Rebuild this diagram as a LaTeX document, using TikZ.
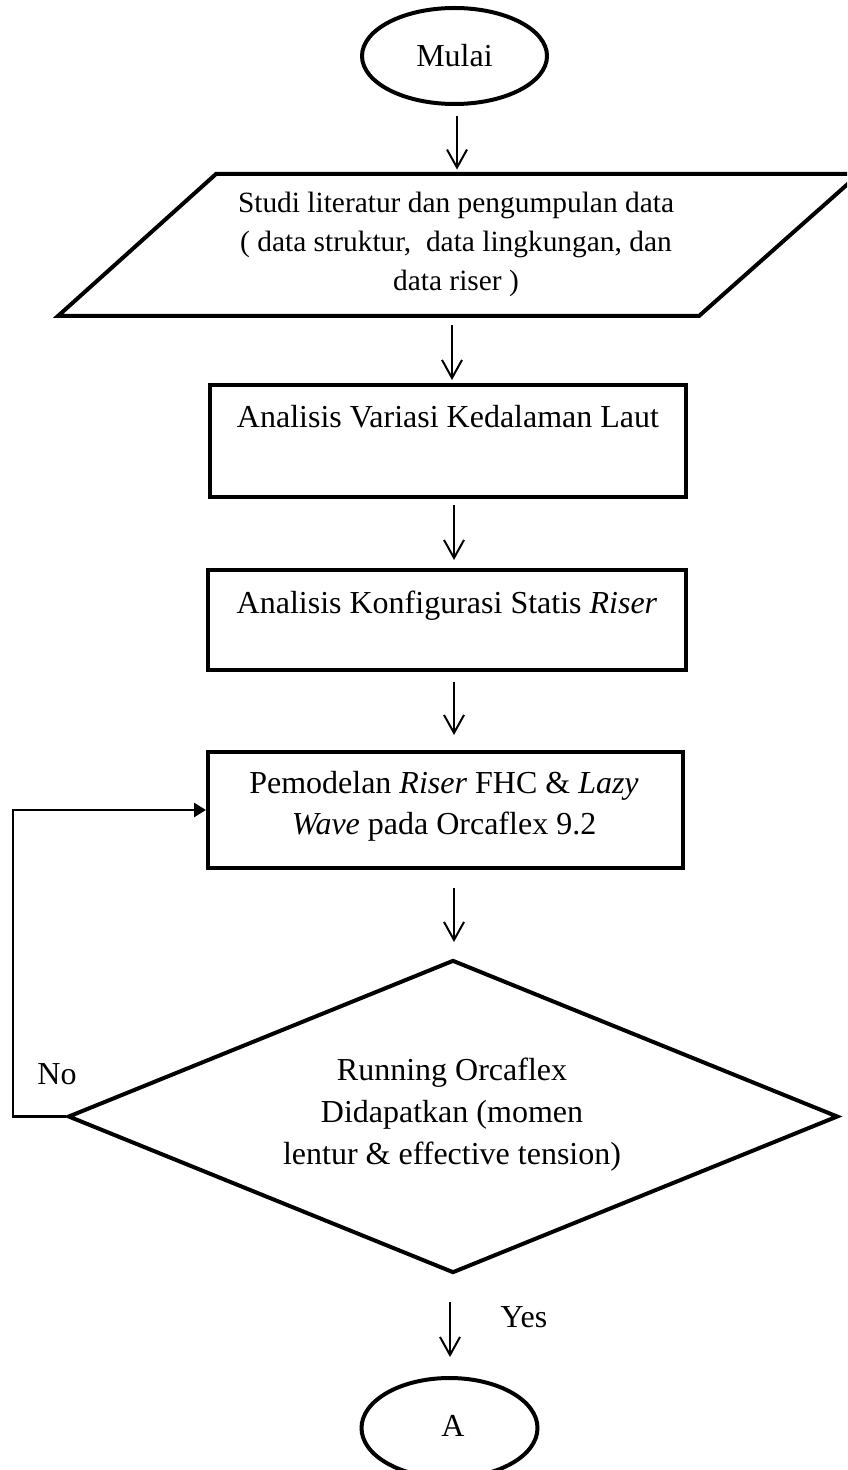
\documentclass[tikz,border=0pt]{standalone}
\usepackage{fontspec}
\setmainfont{Liberation Serif}
\usetikzlibrary{shapes.geometric,arrows.meta}
\begin{document}
\begin{tikzpicture}[x=0.5pt,y=-0.5pt,
  thk/.style={draw,line width=2pt},
  box/.style={thk,rectangle,inner sep=0pt},
  txt/.style={anchor=base,inner sep=0pt,font=\fontsize{16}{19}\selectfont},
  ptxt/.style={anchor=base,inner sep=0pt,font=\fontsize{14.7}{18}\selectfont},
  arr/.style={line width=1pt,-{Straight Barb[length=9pt,width=10pt,line width=1pt]}},
  fb/.style={line width=1.3pt,-{Triangle[length=6pt,width=7pt]}},
]
\useasboundingbox (0,0) rectangle (847,1470);
\clip (0,0) rectangle (847,1470);

% shapes
\node[thk,ellipse,inner sep=0pt,minimum width=92.5pt,minimum height=48pt] (start) at (454.5,56) {};
\node[inner sep=0pt,minimum width=320pt,minimum height=71.5pt] (data) at (457,245.5) {};
\draw[line width=2pt] (216,174) -- (859,174) -- (699,316) -- (58,316) -- cycle;
\node[box,minimum width=238pt,minimum height=56pt] (b1) at (448,441) {};
\node[box,minimum width=239pt,minimum height=50pt] (b2) at (447,620) {};
\node[box,minimum width=237.5pt,minimum height=58pt] (b3) at (445.5,810) {};
\node[thk,diamond,inner sep=0pt,minimum width=385pt,minimum height=156.5pt] (dec) at (453,1116.5) {};
\node[thk,ellipse,inner sep=0pt,minimum width=88pt,minimum height=50pt] (stop) at (449.5,1428) {};

% texts
\node[txt] (tstart) at (454.5,67) {Mulai};
\node[ptxt] (d1) at (456,213) {Studi literatur dan pengumpulan data};
\node[ptxt] (d2) at (456,252) {( data struktur,\ \ data lingkungan, dan};
\node[ptxt] (d3) at (456,291) {data riser )};
\node[txt] (t1) at (448,428) {Analisis Variasi Kedalaman Laut};
\node[txt] (t2) at (447,613) {Analisis Konfigurasi Statis \textit{Riser}};
\node[txt] (t3a) at (444,793) {Pemodelan \textit{Riser} FHC \& \textit{Lazy}};
\node[txt] (t3b) at (444,834) {\textit{Wave} pada Orcaflex 9.2};
\node[txt] (t4a) at (452,1080) {Running Orcaflex};
\node[txt] (t4b) at (452,1122) {Didapatkan (momen};
\node[txt] (t4c) at (452,1164) {lentur \& effective tension)};
\node[txt] (tno) at (57,1084) {No};
\node[txt] (tyes) at (524,1327) {Yes};
\node[txt] (tstop) at (453,1436) {A};

% connectors
\coordinate (a1) at (457,0);
\coordinate (a2) at (452,0);
\coordinate (a3) at (454,0);
\coordinate (a6) at (450,0);
\coordinate (fbx) at (13,0);
\draw[arr,shorten <=5pt,shorten >=2pt] (start.south -| a1) -- (data.north -| a1);
\draw[arr,shorten <=4pt,shorten >=1.5pt] (data.south -| a2) -- (b1.north -| a2);
\draw[arr,shorten <=3pt,shorten >=4pt] (b1.south -| a3) -- (b2.north -| a3);
\draw[arr,shorten <=5pt,shorten >=7.5pt] (b2.south -| a3) -- (b3.north -| a3);
\draw[arr,shorten <=9pt,shorten >=8pt] (b3.south -| a3) -- (dec.north -| a3);
\draw[arr,shorten <=13.5pt,shorten >=9.5pt] (dec.south -| a6) -- (stop.north -| a6);
\draw[fb] (dec.west) -- (dec.west -| fbx) |- (b3.west);
\end{tikzpicture}
\end{document}
